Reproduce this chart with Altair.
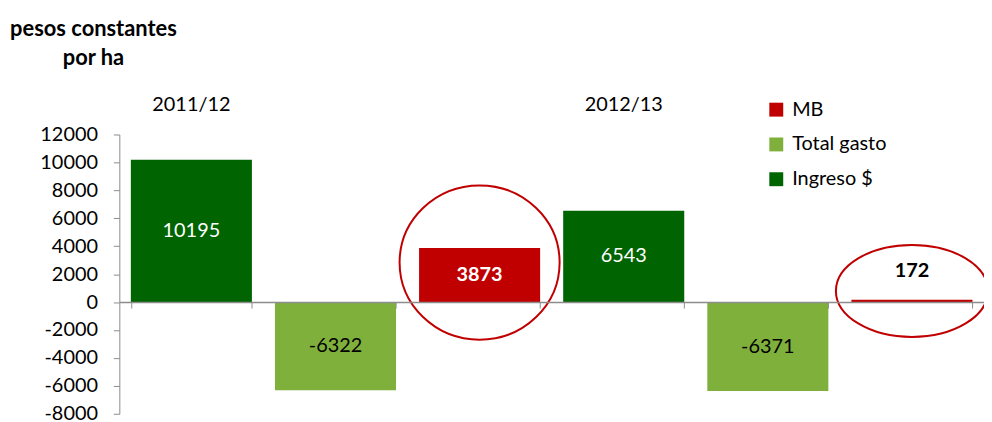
import altair as alt
import pandas as pd

# ---- data ----
periodos = ["2011/12", "2011/12", "2011/12", "2012/13", "2012/13", "2012/13"]
series = ["Ingreso $", "Total gasto", "MB", "Ingreso $", "Total gasto", "MB"]
valores = [10195, -6322, 3873, 6543, -6371, 172]

serie_orden = ["MB", "Total gasto", "Ingreso $"]
serie_colores = ["#C00000", "#80B03C", "#006400"]

y_ticks = [-8000, -6000, -4000, -2000, 0, 2000, 4000, 6000, 8000, 10000, 12000]

# highlight ellipses (around the MB bars)
elipse_barra = [3, 6]
elipse_centro = [2830, 800]          # centre, in data units
elipse_ancho = [161, 153]            # diameter in px
elipse_ratio = [0.964, 0.605]        # height / width

titulo = ["pesos constantes", "por ha"]

FONT = "Lato"
W, H = 870, 281

df = pd.DataFrame({
    "pos": list(range(1, len(valores) + 1)),
    "periodo": periodos,
    "serie": series,
    "valor": valores,
})

k = 0.5523
def ellipse_path(q):
    return (f"M -1 0 C -1 {-q*k:.4f} {-k:.4f} {-q:.4f} 0 {-q:.4f} "
            f"C {k:.4f} {-q:.4f} 1 {-q*k:.4f} 1 0 "
            f"C 1 {q*k:.4f} {k:.4f} {q:.4f} 0 {q:.4f} "
            f"C {-k:.4f} {q:.4f} -1 {q*k:.4f} -1 0 Z")

df_el = pd.DataFrame({
    "pos": elipse_barra,
    "yc": elipse_centro,
    "shape": [ellipse_path(r) for r in elipse_ratio],
    "size": [w * w for w in elipse_ancho],
})

ydom = [min(y_ticks), max(y_ticks)]
zero_px = H * (ydom[1] - 0) / (ydom[1] - ydom[0])

x_scale = alt.Scale(paddingInner=0.16, paddingOuter=0.08)
x_axis = alt.Axis(labels=False, title=None, ticks=True, tickBand="extent",
                  tickSize=6, tickColor="#8C8C8C", domainColor="#8C8C8C",
                  domainWidth=1.5, offset=-(H - zero_px), zindex=1, grid=False)
y_scale = alt.Scale(domain=ydom, nice=False, zero=False)
y_axis = alt.Axis(values=y_ticks, title=None, grid=False,
                  labelExpr="'' + datum.value", labelFont=FONT,
                  labelFontSize=20, labelColor="#000000",
                  labelOverlap=False, labelPadding=16, tickSize=6,
                  tickColor="#8C8C8C", domainColor="#8C8C8C")

def X():
    return alt.X("pos:O", scale=x_scale, axis=x_axis)

def Y(field):
    return alt.Y(field, scale=y_scale, axis=y_axis)

base = alt.Chart(df)

bars = base.mark_bar().encode(
    x=X(),
    y=Y("valor:Q"),
    color=alt.Color("serie:N",
                    scale=alt.Scale(domain=serie_orden, range=serie_colores),
                    legend=alt.Legend(title=None, orient="none", legendX=651,
                                      legendY=-35, symbolType="square",
                                      symbolSize=196, symbolStrokeWidth=0,
                                      labelFont=FONT, labelFontSize=20,
                                      labelColor="#000000", rowPadding=15,
                                      labelOffset=6, padding=0)),
)

labels_main = base.transform_filter(
    alt.datum.serie != "MB"
).transform_calculate(
    mid="datum.valor / 2", lab="'' + datum.valor"
).mark_text(font=FONT, fontSize=20, baseline="middle").encode(
    x=X(),
    y=Y("mid:Q"),
    text="lab:N",
    color=alt.condition(alt.datum.serie == "Ingreso $",
                        alt.value("#FFFFFF"), alt.value("#000000")),
)

labels_mb_in = base.transform_filter(
    (alt.datum.serie == "MB") & (abs(alt.datum.valor) >= 1000)
).transform_calculate(
    mid="datum.valor / 2", lab="'' + datum.valor"
).mark_text(font=FONT, fontSize=20, fontWeight="bold", baseline="middle",
            color="#FFFFFF").encode(
    x=X(),
    y=Y("mid:Q"),
    text="lab:N",
)

labels_mb_out = base.transform_filter(
    (alt.datum.serie == "MB") & (abs(alt.datum.valor) < 1000)
).transform_calculate(
    lab="'' + datum.valor"
).mark_text(font=FONT, fontSize=20, fontWeight="bold", baseline="middle",
            color="#000000", dy=-29).encode(
    x=X(),
    y=Y("valor:Q"),
    text="lab:N",
)

period_labels = base.transform_aggregate(
    pos="min(pos)", groupby=["periodo"]
).mark_text(font=FONT, fontSize=20, baseline="middle", color="#000000").encode(
    x=X(),
    y=alt.value(-30),
    text="periodo:N",
)

ellipses = alt.Chart(df_el).mark_point(
    filled=False, stroke="#C00000", strokeWidth=2, opacity=1
).encode(
    x=X(),
    y=Y("yc:Q"),
    shape=alt.Shape("shape:N", scale=None),
    size=alt.Size("size:Q", scale=None),
)

chart = alt.layer(
    bars, ellipses, labels_main, labels_mb_in, labels_mb_out, period_labels
).properties(
    width=W, height=H,
    background="#FFFFFF",
    padding={"left": 112, "top": 126, "right": 0, "bottom": 7},
    autosize=alt.AutoSizeParams(type="none"),
    title=alt.TitleParams(text=titulo, anchor="start", align="center",
                          frame="group", dx=-26, offset=25, font=FONT,
                          fontSize=22, fontWeight="bold", lineHeight=29,
                          color="#000000"),
).configure_view(stroke=None).configure_axis(labelOverlap=False)

chart.save("out.html", embed_options={"renderer": "svg", "actions": False})
